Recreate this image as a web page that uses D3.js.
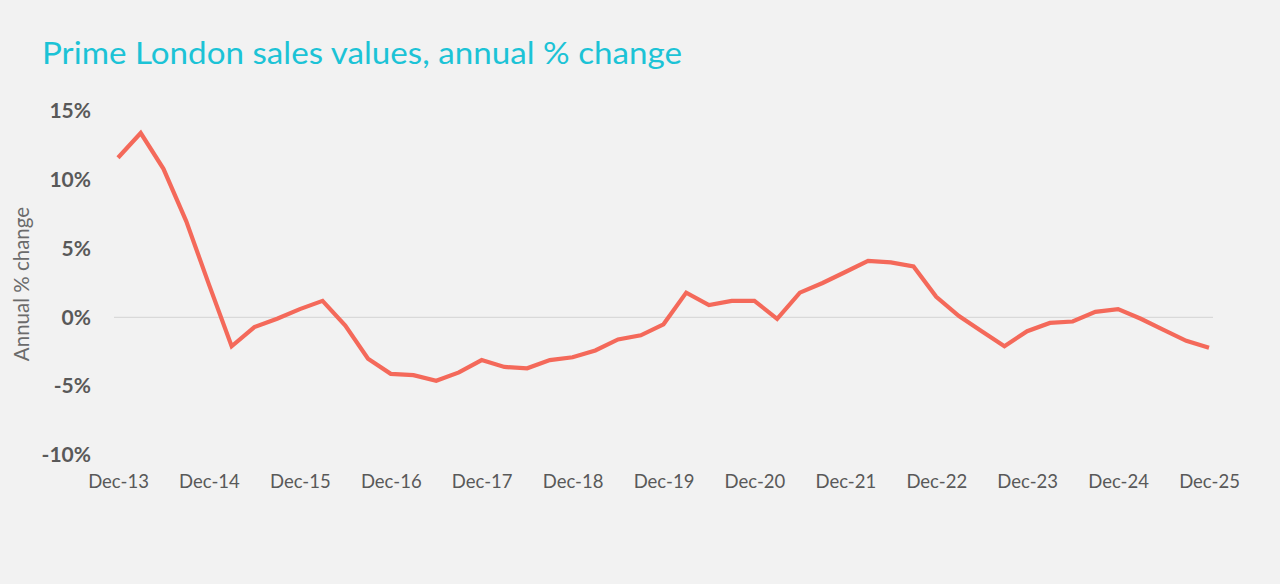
<!DOCTYPE html>
<html><head><meta charset="utf-8">
<script src="https://cdn.jsdelivr.net/npm/d3@7"></script>
<style>html,body{margin:0;padding:0;background:#f2f2f2;}svg{display:block;}</style>
</head><body>
<svg id="c" width="1280" height="584"></svg>
<script>
const periodLabels = ["Dec-13","Dec-14","Dec-15","Dec-16","Dec-17","Dec-18","Dec-19","Dec-20","Dec-21","Dec-22","Dec-23","Dec-24","Dec-25"];
const quarterIndex = d3.range(49);
const annualChange = [11.6,13.4,10.8,7.0,2.4,-2.1,-0.7,-0.1,0.6,1.2,-0.6,-3.0,-4.1,-4.2,-4.6,-4.0,-3.1,-3.6,-3.7,-3.1,-2.9,-2.4,-1.6,-1.3,-0.5,1.8,0.9,1.2,1.2,-0.1,1.8,2.5,3.3,4.1,4.0,3.7,1.5,0.1,-1.0,-2.1,-1.0,-0.4,-0.3,0.4,0.6,-0.1,-0.9,-1.7,-2.2];
const yTicks = [15,10,5,0,-5,-10];

const svg = d3.select("#c");
const x = d3.scaleLinear().domain([0,48]).range([118,1209]);
const y = d3.scaleLinear().domain([-10,15]).range([455,111]);

svg.append("rect").attr("width",1280).attr("height",584).attr("fill","#f2f2f2");

svg.append("text").attr("x",42).attr("y",64)
  .attr("font-family","Lato, 'Open Sans', sans-serif").attr("font-size",31)
  .attr("fill","#1cc3d6").attr("textLength",640).attr("lengthAdjust","spacingAndGlyphs")
  .text("Prime London sales values, annual % change");

// zero line
svg.append("line").attr("x1",114).attr("x2",1213).attr("y1",y(0)).attr("y2",y(0))
  .attr("stroke","#d9d9d9").attr("stroke-width",1.2);

// y axis
const ya = svg.append("g").attr("transform","translate(91,0)")
  .call(d3.axisLeft(y).tickValues(yTicks).tickSize(0).tickPadding(0).tickFormat(d=>d+"%"));
ya.select(".domain").remove();
ya.selectAll("text").attr("font-family","Lato, 'Open Sans', sans-serif").attr("font-size",21)
  .attr("font-weight","bold").attr("fill","#595959");

// x axis
const xa = svg.append("g").attr("transform","translate(0,475)")
  .call(d3.axisBottom(x).tickValues(periodLabels.map((d,i)=>i*4)).tickSize(0).tickPadding(0)
  .tickFormat((d,i)=>periodLabels[i]));
xa.select(".domain").remove();
xa.selectAll("text").attr("font-family","Lato, 'Open Sans', sans-serif").attr("font-size",18.5)
  .attr("fill","#595959");

svg.append("text").attr("transform","translate(29,284) rotate(-90)")
  .attr("text-anchor","middle").attr("font-family","Lato, 'Open Sans', sans-serif")
  .attr("font-size",20.5).attr("fill","#6b6b6b").text("Annual % change");

const line = d3.line().x((d,i)=>x(quarterIndex[i])).y(d=>y(d));
svg.append("path").datum(annualChange).attr("d",line).attr("fill","none")
  .attr("stroke","#f4695a").attr("stroke-width",4.2).attr("stroke-linejoin","miter");
</script>
</body></html>
